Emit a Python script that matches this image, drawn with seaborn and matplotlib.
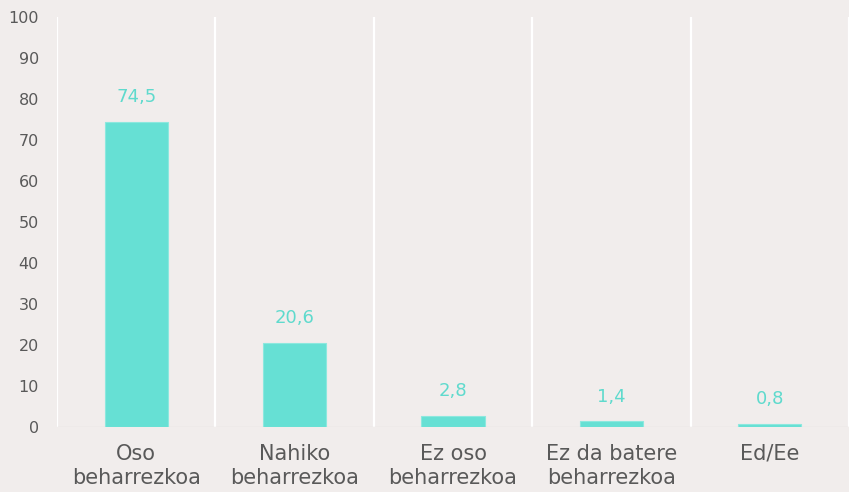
"""Bar chart: how necessary (Basque survey answers)."""

import matplotlib
matplotlib.use('Agg')
import matplotlib.pyplot as plt
import pandas as pd
import seaborn as sns

categories = ['Oso\nbeharrezkoa', 'Nahiko\nbeharrezkoa', 'Ez oso\nbeharrezkoa',
              'Ez da batere\nbeharrezkoa', 'Ed/Ee']
values = [74.5, 20.6, 2.8, 1.4, 0.8]
value_labels = ['74,5', '20,6', '2,8', '1,4', '0,8']

BG = '#f1edec'
BAR = '#66e0d4'
LABEL = '#5fdacd'
TEXT = '#595959'

sns.set_theme(style='white')
plt.rcParams['font.family'] = ['DejaVu Sans']

df = pd.DataFrame({'cat': categories, 'val': values})

fig = plt.figure(figsize=(8.49, 4.92), dpi=100, facecolor=BG)
ax = fig.add_axes([57 / 849, 1 - 427 / 492, 1 - 57 / 849, (427 - 17) / 492])
ax.set_facecolor(BG)

sns.barplot(data=df, x='cat', y='val', color=BAR, width=0.4, saturation=1,
            edgecolor='#8ce8de', linewidth=0.8, ax=ax)

for i in range(len(categories) + 1):
    ax.axvline(i - 0.5, color='white', lw=1.6, zorder=0)
ax.axhline(0, color='#e6e1e0', lw=1, zorder=0.5)

for p, lab in zip(ax.patches, value_labels):
    ax.annotate(lab, (p.get_x() + p.get_width() / 2, p.get_height()),
                xytext=(0, 11), textcoords='offset points',
                ha='center', va='bottom', color=LABEL, fontsize=13)

ax.set_xlim(-0.5, len(categories) - 0.5)
ax.set_ylim(0, 100)
ax.set_yticks(range(0, 101, 10))
ax.set_xlabel('')
ax.set_ylabel('')
ax.tick_params(axis='y', length=0, pad=13, labelsize=11.5, labelcolor=TEXT)
ax.tick_params(axis='x', length=0, pad=12, labelsize=15, labelcolor=TEXT)
for lbl in ax.get_xticklabels():
    lbl.set_linespacing(1.3)
for s in ax.spines.values():
    s.set_visible(False)

fig.savefig('out.png', dpi=100, facecolor=BG)
